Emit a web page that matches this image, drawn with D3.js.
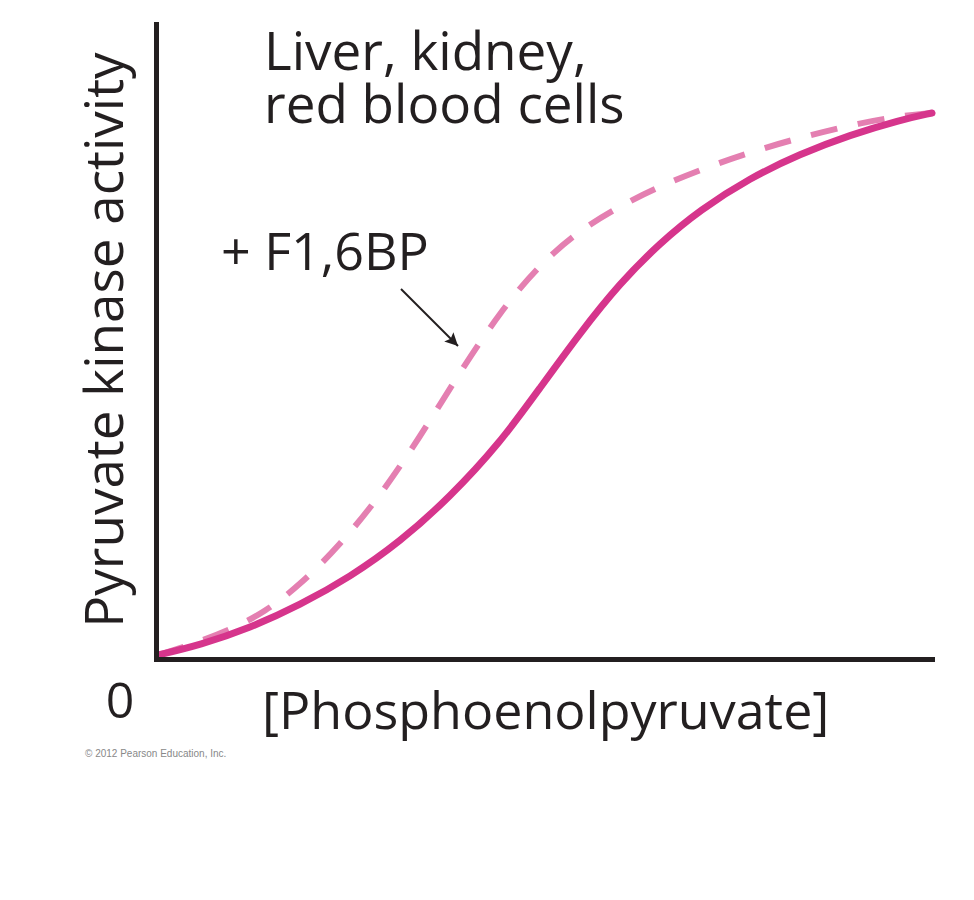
<!DOCTYPE html>
<html>
<head>
<meta charset="utf-8">
<script src="https://cdn.jsdelivr.net/npm/d3@7"></script>
<style>
  body { margin: 0; background: #fff; }
  text { font-family: "Open Sans", "Noto Sans", sans-serif; fill: #231f20; }
</style>
</head>
<body>
<svg id="chart" width="974" height="900"></svg>
<script>
// [PEP] on x (arbitrary units 0-100), activity on y (0-100)
var pepBase = [0.26, 5.67, 12.11, 18.56, 25.0, 31.44, 37.89, 44.33, 49.48, 54.64, 59.79, 64.95, 70.10, 76.55, 82.99, 89.43, 95.88, 100];
var activityBase = [0.63, 2.20, 4.88, 8.50, 12.91, 18.43, 25.51, 34.02, 42.68, 51.34, 59.21, 65.51, 70.71, 75.75, 79.53, 82.52, 84.88, 85.98];

var pepF16bp = [0.26, 4.38, 9.54, 14.05, 18.56, 23.71, 28.87, 34.02, 39.18, 44.33, 49.48, 54.64, 59.79, 64.95, 71.39, 77.84, 84.28, 90.72, 95.88, 100];
var activityF16bp = [0.63, 2.20, 4.57, 7.40, 11.65, 17.95, 25.67, 34.96, 45.20, 54.65, 62.20, 67.56, 71.34, 74.49, 77.64, 80.31, 82.52, 84.41, 85.51, 85.98];

var titleLines = ["Liver, kidney,", "red blood cells"];
var annotation = "+ F1,6BP";
var xLabel = "[Phosphoenolpyruvate]";
var yLabel = "Pyruvate kinase activity";
var originLabel = "0";
var credit = "\u00a9 2012 Pearson Education, Inc.";

//////////////////////////////////////////////////////////////////////////////

var svgSize = { margin: { top: 24, left: 156 }, width: 776, height: 635 };
var fontSize = "53px";

var svg = d3.select("#chart")
  .append("g")
  .attr("transform", "translate(" + svgSize.margin.left + "," + svgSize.margin.top + ")");

var xScale = d3.scaleLinear().domain([0, 100]).range([0, svgSize.width]);
var yScale = d3.scaleLinear().domain([0, 100]).range([svgSize.height, 0]);

var line = d3.line()
  .x(function(d) { return xScale(d[0]); })
  .y(function(d) { return yScale(d[1]); })
  .curve(d3.curveBasis);

// dashed curve (+ F1,6BP) under the solid one
svg.append("path")
  .datum(d3.zip(pepF16bp, activityF16bp))
  .attr("d", line)
  .attr("fill", "none")
  .attr("stroke", "#e47fb1")
  .attr("stroke-width", 6)
  .attr("stroke-dasharray", "27,21");

svg.append("path")
  .datum(d3.zip(pepBase, activityBase))
  .attr("d", line)
  .attr("fill", "none")
  .attr("stroke", "#d6358c")
  .attr("stroke-width", 7)
  .attr("stroke-linecap", "round");

// axes, no ticks
var xAxis = svg.append("g")
  .attr("transform", "translate(0," + svgSize.height + ")")
  .call(d3.axisBottom(xScale).ticks(0).tickSizeOuter(0));
var yAxis = svg.append("g")
  .call(d3.axisLeft(yScale).ticks(0).tickSizeOuter(0));

[xAxis, yAxis].forEach(function(a) {
  a.select(".domain")
    .attr("stroke", "#231f20")
    .attr("stroke-width", 5)
    .attr("stroke-linecap", "square");
});

// labels
svg.append("text")
  .attr("x", -36)
  .attr("y", 694)
  .style("text-anchor", "middle")
  .style("font-size", "50px")
  .text(originLabel);

svg.append("text")
  .attr("x", 106)
  .attr("y", 705)
  .style("font-size", "52px")
  .text(xLabel);

svg.append("text")
  .attr("transform", "rotate(-90)")
  .attr("x", -316)
  .attr("y", -33)
  .style("text-anchor", "middle")
  .style("font-size", fontSize)
  .text(yLabel);

svg.selectAll(".title")
  .data(titleLines)
  .enter()
  .append("text")
  .attr("class", "title")
  .attr("x", 108)
  .attr("y", function(d, i) { return 46 + i * 53; })
  .style("font-size", fontSize)
  .text(function(d) { return d; });

svg.append("text")
  .attr("x", 65)
  .attr("y", 246)
  .style("font-size", "52px")
  .text(annotation);

// arrow pointing at the dashed curve
d3.select("#chart").append("defs")
  .append("marker")
  .attr("id", "head")
  .attr("viewBox", "0 0 10 10")
  .attr("refX", 10)
  .attr("refY", 5)
  .attr("markerWidth", 24)
  .attr("markerHeight", 13)
  .attr("markerUnits", "userSpaceOnUse")
  .attr("orient", "auto")
  .append("path")
  .attr("d", "M0,0 L10,5 L0,10 L2,5 Z")
  .attr("fill", "#231f20");

svg.append("line")
  .attr("x1", 245).attr("y1", 265)
  .attr("x2", 302).attr("y2", 322)
  .attr("stroke", "#231f20")
  .attr("stroke-width", 2)
  .attr("marker-end", "url(#head)");

d3.select("#chart").append("text")
  .attr("x", 85)
  .attr("y", 757)
  .style("font-family", "Liberation Sans, Arial, sans-serif")
  .style("font-size", "10px")
  .style("fill", "#888")
  .text(credit);
</script>
</body>
</html>
